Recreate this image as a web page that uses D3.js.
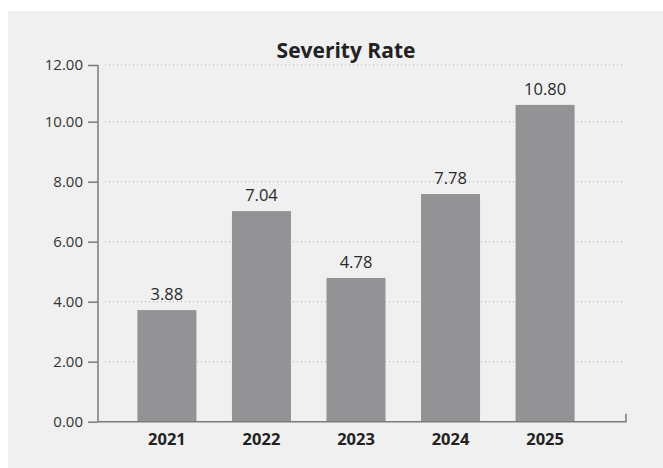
<!DOCTYPE html>
<html>
<head>
<meta charset="utf-8">
<script src="https://cdn.jsdelivr.net/npm/d3@7"></script>
<style>
  html, body { margin: 0; padding: 0; background: #ffffff; }
  svg { display: block; }
  text { font-family: "Open Sans", Lato, sans-serif; }
</style>
</head>
<body>
<svg id="chart" width="663" height="468"></svg>
<script>
// ---- data ----
const title = "Severity Rate";
const categories = ["2021", "2022", "2023", "2024", "2025"];
const barValues = [3.72, 7.02, 4.79, 7.59, 10.56];
const valueLabels = ["3.88", "7.04", "4.78", "7.78", "10.80"];
const tickValues = [0, 2, 4, 6, 8, 10, 11.89];
const tickLabels = ["0.00", "2.00", "4.00", "6.00", "8.00", "10.00", "12.00"];

const W = 663, H = 468;
const svg = d3.select("#chart");

// background panel
svg.append("rect").attr("x", 8).attr("y", 11).attr("width", W - 8).attr("height", H - 11).attr("fill", "#f0f0f0");

const axisX = 98, axisRight = 626;
const y = d3.scaleLinear().domain([0, 12]).range([421.7, 61.7]);
const x = d3.scaleBand().domain(categories).range([98, 614]).paddingInner(0.376).paddingOuter(0.417);

// gridlines
svg.append("g").selectAll("line").data(tickValues.filter(v => v > 0)).join("line")
  .attr("x1", 105).attr("x2", 625)
  .attr("y1", d => y(d)).attr("y2", d => y(d))
  .attr("stroke", "#a8a8a8").attr("stroke-width", 1).attr("stroke-dasharray", "1,3");

// y axis
const yAxis = d3.axisLeft(y).tickValues(tickValues).tickSize(10).tickPadding(5)
  .tickFormat((d, i) => tickLabels[i]);
const gy = svg.append("g").attr("transform", `translate(${axisX},0)`).call(yAxis);
gy.select(".domain").remove();
gy.selectAll(".tick line").attr("stroke", "#7a7a7a").attr("stroke-width", 1.5);
gy.selectAll(".tick text").attr("fill", "#333").style("font-size", "15px");
svg.append("line").attr("x1", axisX).attr("x2", axisX).attr("y1", y(tickValues[tickValues.length - 1])).attr("y2", y(0))
  .attr("stroke", "#7a7a7a").attr("stroke-width", 1.5);

// bars
svg.append("g").selectAll("rect").data(categories).join("rect")
  .attr("x", d => x(d)).attr("width", x.bandwidth())
  .attr("y", (d, i) => y(barValues[i])).attr("height", (d, i) => y(0) - y(barValues[i]))
  .attr("fill", "#939396");

// x axis baseline
svg.append("path")
  .attr("d", `M${axisX},${y(0)}H${axisRight}V${y(0) - 8}`)
  .attr("fill", "none").attr("stroke", "#7a7a7a").attr("stroke-width", 1.5);

// x labels
const xAxis = d3.axisBottom(x).tickSize(0).tickPadding(0);
const gx = svg.append("g").attr("transform", `translate(0,${y(0)})`).call(xAxis);
gx.select(".domain").remove();
gx.selectAll(".tick text").attr("dy", null).attr("y", 23).attr("fill", "#222")
  .style("font-size", "16.5px").style("font-weight", "bold");

// value labels
svg.append("g").selectAll("text").data(categories).join("text")
  .attr("x", d => x(d) + x.bandwidth() / 2)
  .attr("y", (d, i) => y(barValues[i]) - 10)
  .attr("text-anchor", "middle").attr("fill", "#2a2a2a").style("font-size", "16.5px")
  .text((d, i) => valueLabels[i]);

// title
svg.append("text").attr("x", 346).attr("y", 58).attr("text-anchor", "middle")
  .attr("fill", "#222").style("font-size", "21px").style("font-weight", "bold").text(title);
</script>
</body>
</html>
